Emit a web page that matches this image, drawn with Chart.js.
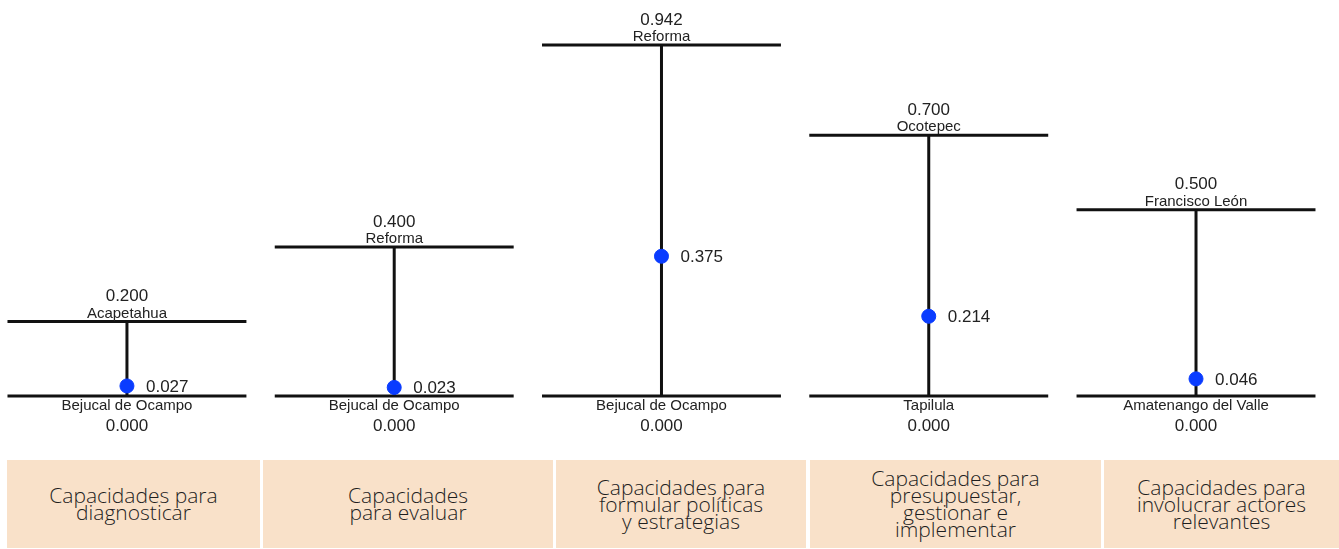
<!DOCTYPE html>
<html>
<head>
<meta charset="utf-8">
<script src="https://cdn.jsdelivr.net/npm/chart.js@4.4.0/dist/chart.umd.min.js"></script>
<style>
body{margin:0;background:#fff;width:1339px;height:549px;position:relative;overflow:hidden;}
#wrap{position:absolute;left:0;top:0;width:1339px;height:455px;}
.cell{position:absolute;top:460px;height:88px;background:#f9e1c9;display:flex;align-items:center;justify-content:center;text-align:center;
font-family:"Open Sans","Noto Sans",sans-serif;font-weight:300;font-size:21px;line-height:17px;color:#1e1e1e;}
</style>
</head>
<body>
<div id="wrap"><canvas id="rangeChart" width="1339" height="455"></canvas></div>
<div id="table"></div>
<script>
let categories = ['Capacidades para\ndiagnosticar','Capacidades\npara evaluar','Capacidades para\nformular políticas\ny estrategias','Capacidades para\npresupuestar,\ngestionar e\nimplementar','Capacidades para\ninvolucrar actores\nrelevantes'];
let maxValues = [0.200,0.400,0.942,0.700,0.500];
let minValues = [0.000,0.000,0.000,0.000,0.000];
let meanValues = [0.027,0.023,0.375,0.214,0.046];
let maxNames = ['Acapetahua','Reforma','Reforma','Ocotepec','Francisco León'];
let minNames = ['Bejucal de Ocampo','Bejucal de Ocampo','Bejucal de Ocampo','Tapilula','Amatenango del Valle'];

// table under the chart
let cellBounds = [[7,260],[263,553],[556,806],[810,1101],[1104,1339]];
let table = document.getElementById('table');
categories.forEach(function(c,i){
let d = document.createElement('div');
d.className = 'cell';
d.style.left = cellBounds[i][0] + 'px';
d.style.width = (cellBounds[i][1]-cellBounds[i][0]) + 'px';
d.innerHTML = c.split('\n').join('<br>');
table.appendChild(d);
});

let half = 0.447;
let datasets = [];
for(let i=0;i<categories.length;i++){
let x = i+1;
let lineStyle = {showLine:true,pointRadius:0,borderColor:'#111',borderWidth:3,order:2};
datasets.push(Object.assign({data:[{x:x,y:minValues[i]},{x:x,y:maxValues[i]}]},lineStyle));
datasets.push(Object.assign({data:[{x:x-half,y:maxValues[i]},{x:x+half,y:maxValues[i]}]},lineStyle));
datasets.push(Object.assign({data:[{x:x-half,y:minValues[i]},{x:x+half,y:minValues[i]}]},lineStyle));
}
datasets.push({
data: meanValues.map(function(v,i){return {x:i+1,y:v};}),
showLine:false,pointRadius:7,pointHoverRadius:7,
backgroundColor:'#0a3cff',borderColor:'#0a3cff',order:0
});

const labelPlugin = {
id:'rangeLabels',
afterDatasetsDraw(chart){
const c = chart.ctx, xs = chart.scales.x, ys = chart.scales.y;
c.save();
c.fillStyle = '#222';
c.textBaseline = 'middle';
for(let i=0;i<categories.length;i++){
let px = xs.getPixelForValue(i+1);
let top = ys.getPixelForValue(maxValues[i]);
let bot = ys.getPixelForValue(minValues[i]);
let mid = ys.getPixelForValue(meanValues[i]);
c.textAlign = 'center';
c.font = '17px "Liberation Sans", Arial, sans-serif';
c.fillText(maxValues[i].toFixed(3), px, top-25);
c.fillText(minValues[i].toFixed(3), px, bot+30);
c.font = '15px "Liberation Sans", Arial, sans-serif';
c.fillText(maxNames[i], px, top-8);
c.fillText(minNames[i], px, bot+10);
c.textAlign = 'left';
c.font = '17px "Liberation Sans", Arial, sans-serif';
c.fillText(meanValues[i].toFixed(3), px+19, mid+1);
}
c.restore();
}
};

const chart = new Chart(document.getElementById('rangeChart').getContext('2d'), {
type:'scatter',
data:{datasets:datasets},
options:{
responsive:false,
animation:false,
layout:{padding:0,autoPadding:false},
plugins:{legend:{display:false},tooltip:{enabled:false}},
scales:{
x:{type:'linear',display:false,min:0.525,max:5.535},
y:{type:'linear',display:false,min:-0.1583,max:1.0628}
}
},
plugins:[labelPlugin]
});
</script>
</body>
</html>
